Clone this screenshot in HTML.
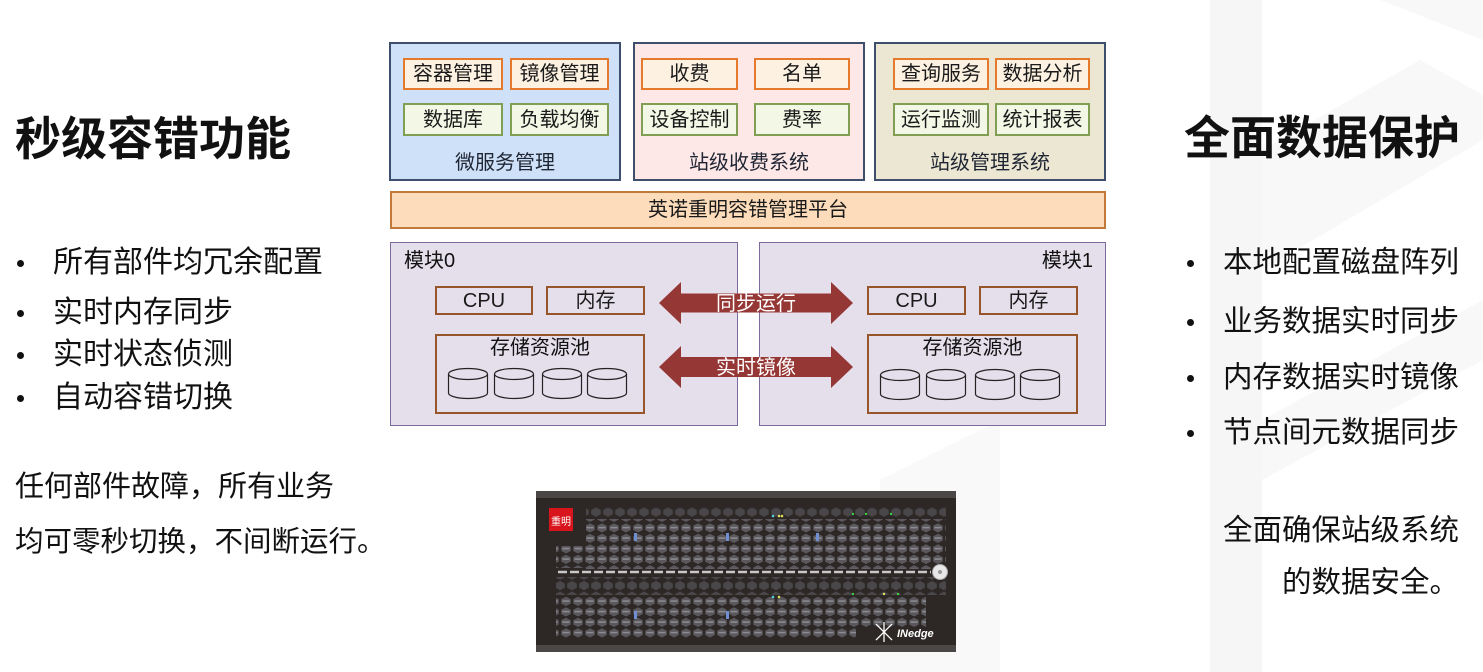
<!DOCTYPE html>
<html>
<head>
<meta charset="utf-8">
<style>
html,body{margin:0;padding:0;}
body{width:1483px;height:672px;position:relative;overflow:hidden;background:#fff;font-family:"Liberation Sans","Noto Sans CJK SC",sans-serif;color:#111;}
.a{position:absolute;}
.t{position:absolute;line-height:1;white-space:nowrap;}
.box{position:absolute;box-sizing:border-box;display:flex;align-items:center;justify-content:center;font-size:20px;line-height:1;color:#1a1a1a;white-space:nowrap;}
.org{border:2px solid #e67a2c;background:#fdf1e2;}
.grn{border:2px solid #819f52;background:#f3f8e6;}
.br{border:2px solid #96562a;}
.dot{position:absolute;width:7px;height:7px;border-radius:50%;background:#111;}
</style>
</head>
<body>
<!-- faint background shapes -->
<svg class="a" style="left:0;top:0" width="1483" height="672">
  <polygon points="1210,0 1262,0 1262,672 1210,672" fill="#f6f6f6"/>
  <polygon points="1262,150 1420,60 1483,95 1483,140 1262,270" fill="#f8f8f8"/>
  <polygon points="1262,420 1483,300 1483,360 1262,480" fill="#f8f8f8"/>
  <polygon points="1380,0 1483,0 1483,40" fill="#f8f8f8"/>
  <polygon points="880,480 1000,420 1000,672 880,672" fill="#f9f9f9"/>
</svg>

<!-- Left text -->
<div class="t" style="left:15px;top:116px;font-size:46px;font-weight:bold;">秒级容错功能</div>
<div class="dot" style="left:17px;top:260px"></div>
<div class="dot" style="left:17px;top:310px"></div>
<div class="dot" style="left:17px;top:352px"></div>
<div class="dot" style="left:17px;top:395px"></div>
<div class="t" style="left:53px;top:248px;font-size:30px;">所有部件均冗余配置</div>
<div class="t" style="left:53px;top:298px;font-size:30px;">实时内存同步</div>
<div class="t" style="left:53px;top:340px;font-size:30px;">实时状态侦测</div>
<div class="t" style="left:53px;top:383px;font-size:30px;">自动容错切换</div>
<div class="t" style="left:15px;top:473px;font-size:29px;">任何部件故障，所有业务</div>
<div class="t" style="left:15px;top:528px;font-size:28.5px;">均可零秒切换，不间断运行。</div>

<!-- Right text -->
<div class="t" style="left:1184px;top:115px;font-size:46px;font-weight:bold;">全面数据保护</div>
<div class="dot" style="left:1187px;top:260px"></div>
<div class="dot" style="left:1187px;top:319px"></div>
<div class="dot" style="left:1187px;top:375px"></div>
<div class="dot" style="left:1187px;top:430px"></div>
<div class="t" style="left:1223px;top:248px;font-size:29.5px;">本地配置磁盘阵列</div>
<div class="t" style="left:1223px;top:307px;font-size:29.5px;">业务数据实时同步</div>
<div class="t" style="left:1223px;top:363px;font-size:29.5px;">内存数据实时镜像</div>
<div class="t" style="left:1223px;top:418px;font-size:29.5px;">节点间元数据同步</div>
<div class="t" style="left:1223px;top:516px;font-size:29.5px;">全面确保站级系统</div>
<div class="t" style="left:1282px;top:568px;font-size:29.5px;">的数据安全。</div>

<!-- Top boxes -->
<div class="a" style="left:389px;top:42px;width:232px;height:139px;box-sizing:border-box;border:2px solid #3d4f6c;background:#cfe1f8;"></div>
<div class="a" style="left:633px;top:42px;width:232px;height:139px;box-sizing:border-box;border:2px solid #3d4f6c;background:#fde8e7;"></div>
<div class="a" style="left:874px;top:42px;width:232px;height:139px;box-sizing:border-box;border:2px solid #3d4f6c;background:#ece7d2;"></div>

<div class="box org" style="left:403px;top:58px;width:100px;height:32px;">容器管理</div>
<div class="box org" style="left:510px;top:58px;width:99px;height:32px;">镜像管理</div>
<div class="box grn" style="left:403px;top:103px;width:100px;height:33px;">数据库</div>
<div class="box grn" style="left:510px;top:103px;width:99px;height:33px;">负载均衡</div>

<div class="box org" style="left:641px;top:58px;width:97px;height:32px;">收费</div>
<div class="box org" style="left:754px;top:58px;width:96px;height:32px;">名单</div>
<div class="box grn" style="left:641px;top:103px;width:97px;height:33px;">设备控制</div>
<div class="box grn" style="left:754px;top:103px;width:96px;height:33px;">费率</div>

<div class="box org" style="left:893px;top:58px;width:96px;height:32px;">查询服务</div>
<div class="box org" style="left:995px;top:58px;width:95px;height:32px;">数据分析</div>
<div class="box grn" style="left:893px;top:103px;width:96px;height:33px;">运行监测</div>
<div class="box grn" style="left:995px;top:103px;width:95px;height:33px;">统计报表</div>

<div class="box" style="left:389px;top:152px;width:232px;height:22px;color:#1f2533;">微服务管理</div>
<div class="box" style="left:633px;top:152px;width:232px;height:22px;color:#1f2533;">站级收费系统</div>
<div class="box" style="left:874px;top:152px;width:232px;height:22px;color:#1f2533;">站级管理系统</div>

<!-- Platform -->
<div class="box" style="left:390px;top:191px;width:716px;height:38px;border:2px solid #c27a3c;background:#fcdcba;">英诺重明容错管理平台</div>

<!-- Modules -->
<div class="a" style="left:390px;top:242px;width:348px;height:184px;box-sizing:border-box;border:1.5px solid #7d6b9e;background:#e5dfec;"></div>
<div class="a" style="left:759px;top:242px;width:347px;height:184px;box-sizing:border-box;border:1.5px solid #7d6b9e;background:#e5dfec;"></div>
<div class="t" style="left:404px;top:251px;font-size:20px;">模块0</div>
<div class="t" style="left:1040px;top:251px;font-size:20px;width:53px;text-align:right;">模块1</div>

<div class="box br" style="left:435px;top:286px;width:98px;height:29px;">CPU</div>
<div class="box br" style="left:546px;top:286px;width:99px;height:29px;">内存</div>
<div class="a br" style="left:435px;top:334px;width:210px;height:80px;box-sizing:border-box;"></div>
<div class="t" style="left:435px;top:338px;width:210px;text-align:center;font-size:20px;">存储资源池</div>

<div class="box br" style="left:867px;top:286px;width:99px;height:29px;">CPU</div>
<div class="box br" style="left:979px;top:286px;width:99px;height:29px;">内存</div>
<div class="a br" style="left:867px;top:334px;width:211px;height:80px;box-sizing:border-box;"></div>
<div class="t" style="left:867px;top:338px;width:211px;text-align:center;font-size:20px;">存储资源池</div>

<svg class="a" style="left:0;top:0" width="1483" height="672">
  <defs>
    <g id="cyl">
      <path d="M0.5,6 L0.5,25 A19.5,5.5 0 0 0 39.5,25 L39.5,6" fill="none" stroke="#222" stroke-width="1.2"/>
      <ellipse cx="20" cy="6" rx="19.5" ry="5.5" fill="none" stroke="#222" stroke-width="1.2"/>
    </g>
  </defs>
  <use href="#cyl" x="448" y="368"/>
  <use href="#cyl" x="494" y="368"/>
  <use href="#cyl" x="542" y="368"/>
  <use href="#cyl" x="587" y="368"/>
  <use href="#cyl" x="880" y="369"/>
  <use href="#cyl" x="926" y="369"/>
  <use href="#cyl" x="975" y="369"/>
  <use href="#cyl" x="1020" y="369"/>

  <polygon points="659,303 681,282 681,293.5 831,293.5 831,282 853,303 831,324 831,312.5 681,312.5 681,324" fill="#953735"/>
  <polygon points="659,367 681,346 681,357 831,357 831,346 853,367 831,388 831,377 681,377 681,388" fill="#953735"/>
  <text x="756" y="310" font-size="20" fill="#fff" text-anchor="middle" font-family="Liberation Sans, Noto Sans CJK SC, sans-serif">同步运行</text>
  <text x="756" y="374" font-size="20" fill="#fff" text-anchor="middle" font-family="Liberation Sans, Noto Sans CJK SC, sans-serif">实时镜像</text>
</svg>

<!-- Server -->
<svg class="a" style="left:536px;top:491px" width="420" height="161">
  <defs>
    <pattern id="hex" x="0" y="0" width="12" height="10.5" patternUnits="userSpaceOnUse">
      <polygon points="6,0.8 10.8,3.3 10.8,7.5 6,10 1.2,7.5 1.2,3.3" fill="#5a585c"/>
      <rect x="2.5" y="4.3" width="7" height="1.6" fill="#8a8a90"/>
    </pattern>
    <pattern id="hex2" x="6" y="5.25" width="12" height="10.5" patternUnits="userSpaceOnUse">
      <polygon points="6,0.8 10.8,3.3 10.8,7.5 6,10 1.2,7.5 1.2,3.3" fill="#4a474a"/>
    </pattern>
  </defs>
  <rect x="0" y="0" width="420" height="161" fill="#2d2725"/>
  <rect x="0" y="0" width="420" height="7" fill="#4b4747"/>
  <rect x="0" y="154" width="420" height="7" fill="#4b4747"/>
  <rect x="50" y="16" width="190" height="10" fill="url(#hex2)"/>
  <rect x="240" y="16" width="170" height="10" fill="url(#hex2)"/>
  <rect x="50" y="28" width="360" height="50" fill="url(#hex)"/>
  <rect x="20" y="55" width="390" height="22" fill="url(#hex)"/>
  <rect x="20" y="86" width="390" height="18" fill="url(#hex2)"/>
  <rect x="20" y="106" width="370" height="42" fill="url(#hex)"/>
  <rect x="410" y="96" width="10" height="58" fill="#2d2725"/>
  <rect x="320" y="136" width="100" height="18" fill="#2d2725"/>
  <!-- silver divider -->
  <line x1="22" y1="81" x2="395" y2="81" stroke="#c8c8c8" stroke-width="2.5" stroke-dasharray="9,3"/>
  <circle cx="404" cy="81" r="7.5" fill="#e8e8e8" stroke="#aaa" stroke-width="1"/>
  <circle cx="404" cy="81" r="2" fill="#999"/>
  <!-- blue bits -->
  <rect x="98" y="42" width="3" height="8" fill="#6f8fd0"/>
  <rect x="190" y="42" width="3" height="8" fill="#6f8fd0"/>
  <rect x="98" y="120" width="3" height="8" fill="#6f8fd0"/>
  <rect x="190" y="120" width="3" height="8" fill="#6f8fd0"/>
  <rect x="280" y="42" width="3" height="8" fill="#6f8fd0"/>
  <!-- leds -->
  <circle cx="237" cy="25" r="1.3" fill="#4fd0e0"/>
  <circle cx="243" cy="25" r="1.3" fill="#e0e060"/>
  <circle cx="246" cy="25" r="1.3" fill="#e0e060"/>
  <circle cx="317" cy="23" r="1.2" fill="#3ad040"/>
  <circle cx="330" cy="23" r="1.2" fill="#3ad040"/>
  <circle cx="355" cy="23" r="1.2" fill="#3ad040"/>
  <circle cx="237" cy="106" r="1.3" fill="#4fd0e0"/>
  <circle cx="243" cy="106" r="1.3" fill="#e0e060"/>
  <circle cx="317" cy="103" r="1.2" fill="#3ad040"/>
  <circle cx="348" cy="103" r="1.2" fill="#e0e060"/>
  <circle cx="362" cy="103" r="1.2" fill="#3ad040"/>
  <!-- logo -->
  <rect x="13" y="17" width="24" height="23" fill="#d8141c"/>
  <text x="25" y="34" font-size="10" fill="#fff" text-anchor="middle" font-family="Liberation Sans, Noto Sans CJK SC, sans-serif">重明</text>
  <g stroke="#fff" stroke-width="1.3" fill="none">
    <line x1="340" y1="133" x2="356" y2="149"/>
    <line x1="356" y1="133" x2="340" y2="149"/>
    <line x1="348" y1="131" x2="348" y2="151"/>
  </g>
  <text x="361" y="146" font-size="11" font-weight="bold" font-style="italic" fill="#fff" font-family="Liberation Sans, sans-serif">INedge</text>
</svg>
</body>
</html>
